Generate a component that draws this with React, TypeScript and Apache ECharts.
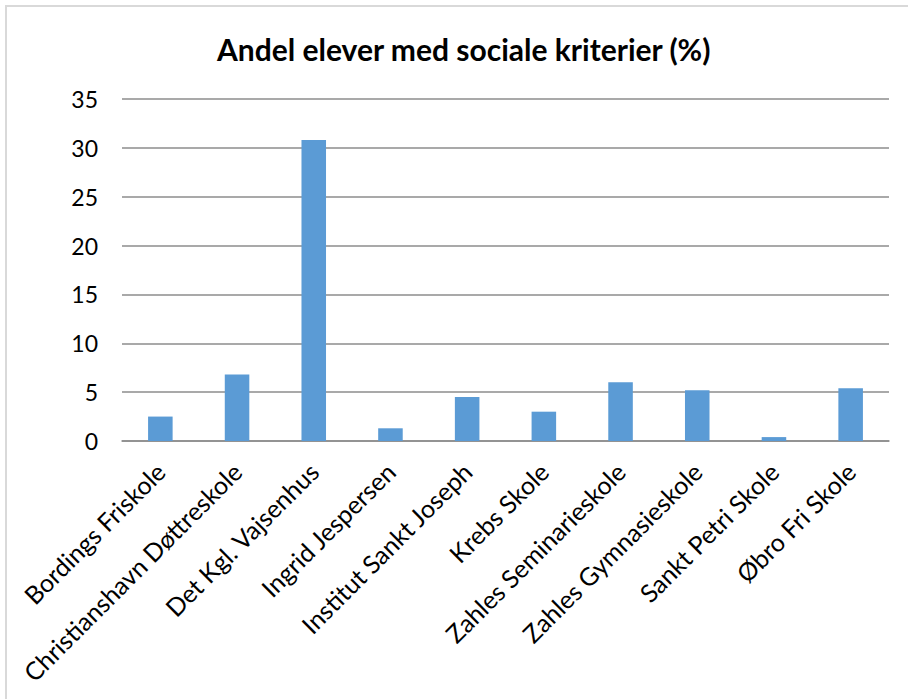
import React, { useEffect, useRef } from "react";
import * as echarts from "echarts";

const categories = [
  "Bordings Friskole",
  "Christianshavn Døttreskole",
  "Det Kgl. Vajsenhus",
  "Ingrid Jespersen",
  "Institut Sankt Joseph",
  "Krebs Skole",
  "Zahles Seminarieskole",
  "Zahles Gymnasieskole",
  "Sankt Petri Skole",
  "Øbro Fri Skole",
];
const values = [2.5, 6.8, 30.8, 1.3, 4.5, 3.0, 6.0, 5.2, 0.4, 5.4];
const titleText = "Andel elever med sociale kriterier (%)";

export default function App() {
  const ref = useRef<HTMLDivElement>(null);
  useEffect(() => {
    document.body.style.margin = "0";
    const chart = echarts.init(ref.current!, null, { renderer: "svg" });
    const font = "Lato, 'Open Sans', sans-serif";
    chart.setOption({
      animation: false,
      backgroundColor: "#ffffff",
      title: {
        text: titleText,
        left: 212,
        top: 29,
        textStyle: { fontFamily: font, fontSize: 30, fontWeight: "bold", color: "#000000" },
      },
      graphic: [
        {
          type: "rect",
          shape: { x: 6, y: 6, width: 1000, height: 1000 },
          style: { fill: "none", stroke: "#d9d9d9", lineWidth: 2 },
          silent: true,
        },
      ],
      grid: { left: 122, right: 19, top: 99, bottom: 258, containLabel: false },
      xAxis: {
        type: "category",
        data: categories,
        axisLine: { show: true, lineStyle: { color: "#8c8c8c", width: 1.5 } },
        axisTick: { show: false },
        axisLabel: {
          rotate: 45,
          interval: 0,
          margin: 26,
          fontFamily: font,
          fontSize: 25,
          color: "#000000",
        },
      },
      yAxis: {
        type: "value",
        min: 0,
        max: 35,
        interval: 5,
        axisLine: { show: false },
        axisTick: { show: false },
        splitLine: { lineStyle: { color: "#8c8c8c", width: 1.5 } },
        axisLabel: { margin: 24, fontFamily: font, fontSize: 23, color: "#000000" },
      },
      series: [
        {
          type: "bar",
          data: values,
          barCategoryGap: "68%",
          itemStyle: { color: "#5b9bd5" },
        },
      ],
    });
    return () => chart.dispose();
  }, []);
  return <div ref={ref} style={{ width: 908, height: 699 }} />;
}
